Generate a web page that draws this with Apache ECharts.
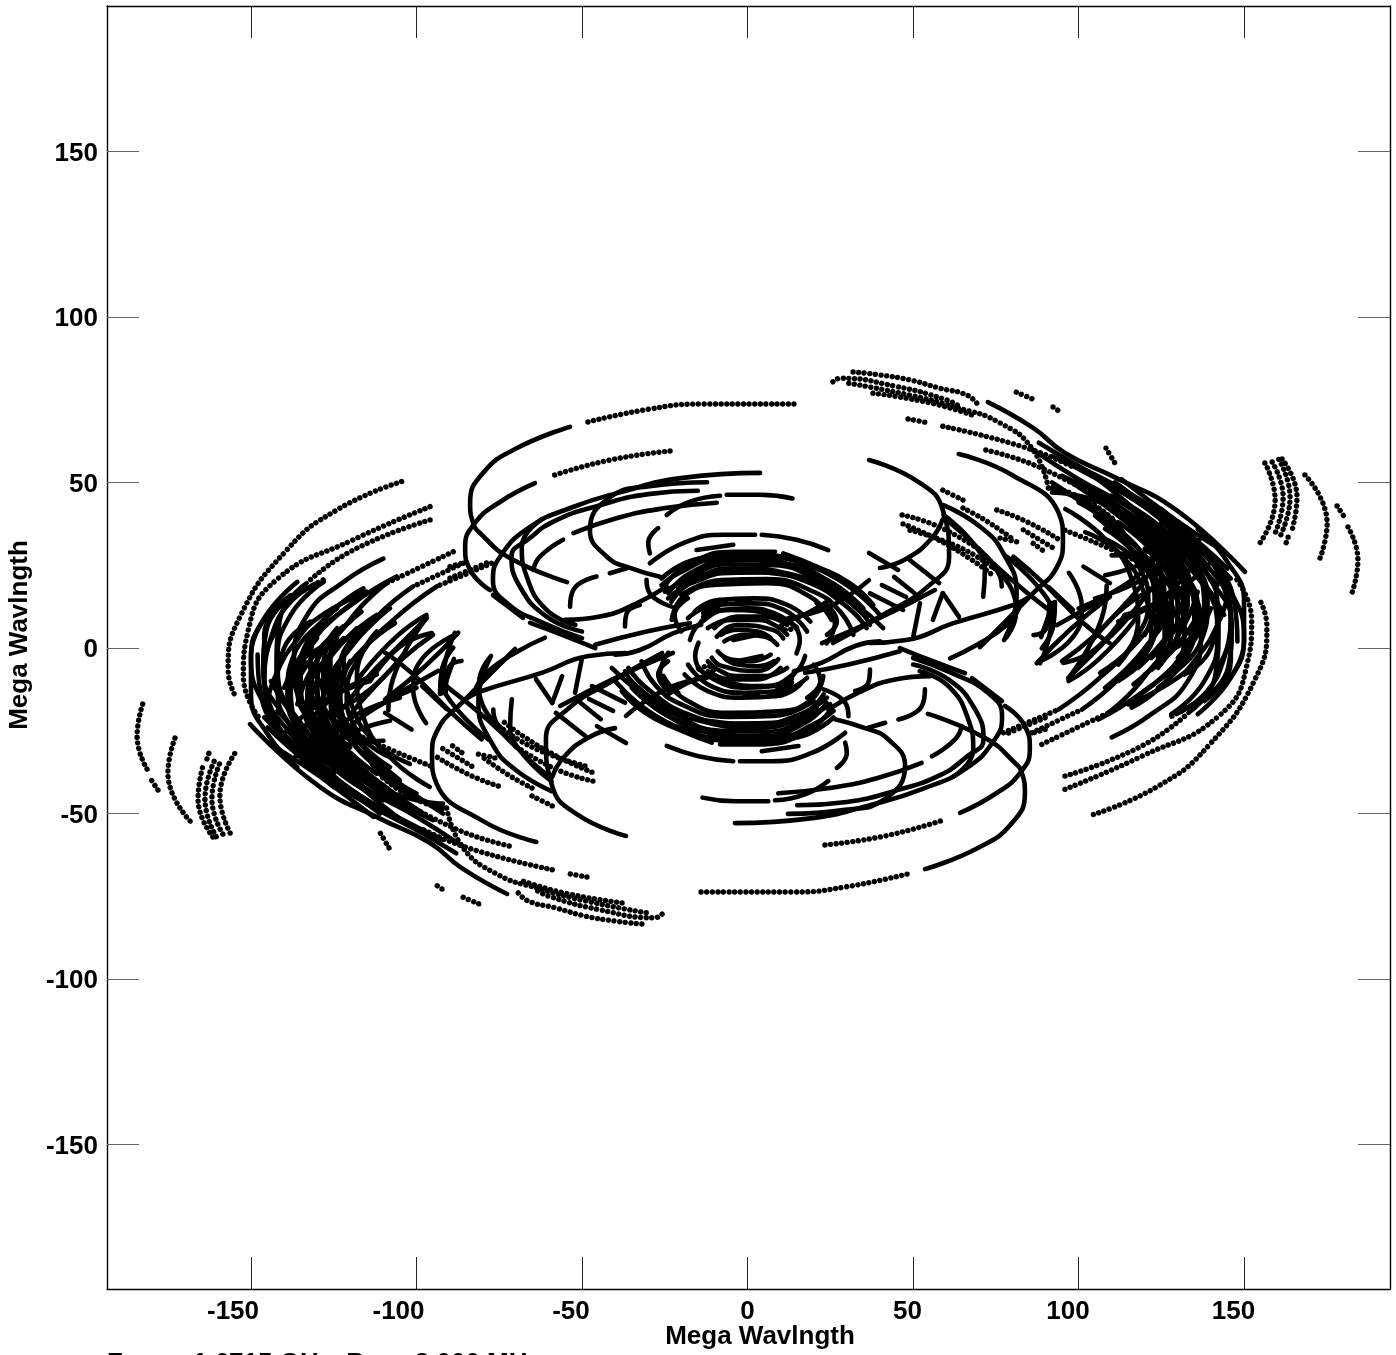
<!DOCTYPE html>
<html><head><meta charset="utf-8">
<style>html,body{margin:0;padding:0;background:#fff;overflow:hidden}#c{width:1396px;height:1355px}</style>
<script src="https://cdn.jsdelivr.net/npm/echarts@6/dist/echarts.min.js"></script>
</head><body><div id="c"></div>
<script>
const tickValues=[-150,-100,-50,0,50,100,150];
const solidUpper=[
[-53.6,66.8,-69.6,60.4,-79.9,52.9,-83.8,43.8,-82.9,37.8,-80.8,34.7,-71.8,27.2,-54.5,19.9],
[-64.2,49.8,-74.8,44.1,-82.3,37.8,-85.3,30.5,-83.8,23.6,-77.8,17.5],
[-76.9,16,-67.8,9.1],
[-65.7,7.6,-56,4,-46,0],
[3.8,52.9,-19.5,51.4,-39.4,46.8,-52.7,42.6,-65.7,36.6,-74.8,27.5,-76.9,20.5,-72.7,13.6,-61.8,7.6,-50,3],
[-12.2,50.1,-29.5,48.9,-41.5,45.6,-47.6,35.6,-42.4,27.5,-35.5,24.2,-26.4,21.5],
[-15,47.5,-30,46.5,-45,43,-58,38.5,-66,33,-71.3,27.6,-68.8,18.6,-60.7,9.5,-50,5],
[-62,39,-68.2,30.6,-66.7,21.6,-60.7,11.5,-52,7],
[-52.6,34.7,-39.6,39.2,-25.4,42.2,-9.3,43.9],
[-24.4,40.2,-17.4,44.2,-8.3,46],
[-6.3,46.3,3.8,46.3,13.6,45.2],
[-64.7,23.6,-62.7,27.6,-55.7,32.7],
[-53.6,12.5,-52.6,17.6,-45.6,21.6],
[-55.2,8.5,-44.6,9.5,-33.5,13.5,-24.4,18.6],
[-41.6,22.6,-36.5,24.1],
[-30.5,20.6,-29.5,16.5,-22.9,12.5],
[-29.5,28.6,-30,31.7,-27,36.2],
[-37,6.5,-36.5,10.5,-32.5,13],
[-29.5,25.6,-19.4,31.7,-7.3,34.2,2.3,34.2],
[4.3,34.2,14.8,32.7,24.4,29.6],
[-15.4,29.6,-4.3,31.2],
[-24.4,19.6,-17.4,25.6,-4.3,29.1,8.3,29.1],
[10.8,28.6,20.9,24.6,30.9,19.6,38,13],
[-23.9,16.5,-17.4,22.6,-4.3,26.6,10.8,25.6,25,20,35,12],
[-23,14,-17.4,19.6,-4.3,24.1,15.8,21.6,30.9,14.5,37,7],
[-22.9,8.5,-19.4,15.5,-9.3,19.1,5.8,19.6,18.9,15.5,25.4,8.5],
[-13.4,10.5,-8.4,14.5],
[-3.3,14.5,0.7,14.5],
[-14,8,-8,11.5,0,12,8,10.5,15,6],
[-12,6,-5,8.5,3,8.5,9,6.5,12,4],
[-8,4,-3,5.5,3,5,7,3],
[36.7,1.5,48,2.4,62.2,7.5,80.3,13,85.3,15.5],
[-46,1,-30.5,5,-17.4,7.5],
[-40,-2,-32.5,-0.6,-22.5,4.4,-14,7],
[20.9,13.5,26.4,7.4,23.9,1.4],
[12.8,8.4,18,10.5,24,14],
[-17.4,2.4,-14.4,7.4,-5.3,11.5,7.8,9.9,15.8,2.4,14.8,-1.6],
[-13.4,9.4,-6.3,14.5],
[-9.3,3.4,-3.3,6.9,7.8,5.4,10.8,2.9],
[-4.3,2.4,2.7,3.9],
[-26,19,-20,23,-8,27.5,5,28,18,25,30,19,40,10],
[-25,17,-18,21,-6,25.3,8,25,22,20,33,13,41,6],
[-24,15,-16,20,-3,23,12,22,26,17,36,9],
[-22,22,-12,26.5,2,27,16,24,28,18],
[-26,21,-15,27,-2,28.2,14,26.5,27,21,36,15],
[-21,18,-10,22.5,4,22.8,18,20,30,12.5,36,6],
[-20,16,-8,20.5,6,20.8,20,17,28,11,32,4],
[-16,11,-9,14.5,2,15,12,13,19,8],
[-18,9,-10,13,1,13.5,11,11.5,18,5],
[-10,6,-3,9.5,5,9.5,12,7],
[-7,2,-1,4,5,3.5,9,1],
[-20,5,-22,10,-18,15],
[24,4,27,8,24,13],
[36.7,56.8,51.6,50.2,59,41.7,60.9,27.5,55,19,40,9.5,25.8,1.5],
[63.8,58.6,79.9,52.3,94,40.8,95.3,32.6,93.5,24.5,86.3,16.6,70.2,0.3],
[40,24.2,48,27,55.5,33,59,39],
[36.7,28.7,45.5,23.6],
[49,26.6,57.9,19.6],
[40.6,19,47.9,15.4],
[44.3,21.5,50.4,16.6],
[59,16.6,56,8.5],
[59,16.6,63.9,9.4],
[22.5,1.5,40.6,9.4,56.6,17.5],
[73.9,24.5,79.9,17.5,81.1,10.6,77.5,2.4],
[70.2,29.6,78.7,21.5,91,11.5],
[59.2,43.2,70.2,36.7,77.3,28.6,81.3,16.5,80.3,9.5,77.8,3],
[59.2,40.2,68.2,31.6,71.7,23.6,71.2,15.5],
[60.2,38.7,70.2,29.6,75.8,22.6,76.8,18.6],
[80.3,27.6,89.4,19.6,101.5,7.5,109.5,1.4],
[78.3,27.6,89.4,16.5,91.9,9.5,88.4,-4.6],
[87.4,-4.6,97.4,5.5,109.5,15.5],
[101.5,24.6,109.5,19.6],
[37,16.5,47,11.5],
[52.1,13.5,50.1,3.5],
[97.1,22.7,101,12.4,98.3,3.3,87.9,-4.2],
[91,18.4,98.3,11.5],
[92.3,13.6,91.7,6.3],
[88.7,3.3,92.3,13.6],
[91.2,13.9,90.2,5.9,86.4,3.9],
[92.9,13.9,92.4,6.9,88.9,-0.1],
[93.4,6.9,107.5,14.8],
[61.2,-3.1,69.2,0.9,78.2,6.9,82,12],
[108.5,18.9,107,9,96.9,-9.1],
[12.2,9,24.6,12.4,36.7,20.5],
[72.6,74.3,86.3,66.5,95.9,58.9,110.7,51.7,129.5,41.7,150.3,23],
[88,62,100,55,115,47,130,37,145,24],
[92,58,104,52,118,44,132,34,146,21],
[86,60,100,51,116,42,130,31,142,19],
[95,52,110,44,124,34,136,22,144,10],
[98,50,112,40,124,29,134,17,138,6],
[92,50,105,41,118,30,128,18,132,8],
[100,44,112,36,122,25,130,12,130,2],
[105,40,115,31,124,20,127,8,124,-3],
[108,33,118,26,126,13,126,2,120,-8],
[102,35,113,28,120,16,122,4,116,-7],
[96,42,108,33,116,21,118,8,112,-5],
[118,44,135,31,146,17,150,3,146,-9,136,-20],
[125,38,138,26,146,10,146,-4,138,-16],
[128,33,138,20,142,4,138,-10,128,-20],
[120,34,133,20,137,4,133,-10,122,-20,110,-27],
[112,38,128,22,132,6,128,-8,116,-18],
[115,46,128,36,138,24,142,12,140,0,132,-8],
[110,46,123,38,134,27,139,14,137,2,128,-8],
[105,46,118,38,128,29,134,19,135,8,130,-3],
[110,42,122,34,131,24,136,12,133,-2,124,-12],
[115,38,126,28,132,16,130,4,124,-6],
[120,30,128,18,128,8,122,-3],
[115,28,124,16,123,4,116,-6],
[125,42,137,30,144,18,146,6,142,-6],
[130,38,140,27,147,14,148,2],
[136,36,145,26,150,14,150,2,145,-10],
[108,22,120,26,130,34],
[105,15,118,20,130,28,138,34],
[112,8,124,14,134,24],
[95,-4,104,3,112,11,120,20],
[96.9,-9.1,106,0,114,8,122,18],
[106.5,-7.5,116,0,124,10],
[116.6,-11,125,-3,132,7,136,17],
[114.6,-16.7,125,-9,134,1,140,12],
[122,-6.6,130,1,136,10],
[130,-19.7,138.7,-13.2,144,-3,146,8],
[-133.2,19.6,-141.3,8.5,-142.3,-6.6,-134.2,-23.7,-119.1,-39.9,-103,-53],
[-139.2,14.5,-145.3,5.5,-146.3,-6.6,-139.2,-21.7,-129.2,-34.8,-111,-50],
[-106,21.6,-119.1,13.5,-130.2,3.5,-135.2,-8.6,-131.2,-24.7,-121.1,-36.8],
[-109,19.6,-120.1,8.5,-128.2,-6.6,-127.2,-24.7,-117.1,-36.8,-99,-50],
[-101,18.6,-112,9.5,-122.1,-2.6,-125.1,-16.7,-121.1,-31.8,-109,-42.9,-92,-47],
[-93.9,18.6,-107,8.5,-117.1,-2.6,-121.1,-14.7,-117.1,-26.8,-109,-39.9,-90.9,-48.4],
[-115.1,17,-129.2,9.5,-136.2,2.4,-142,-7,-145.3,-16.7],
[-97,10,-106,3.5,-117.1,-8.6],
[-95.4,4.5,-105,0.4,-114,-10],
[-112,10,-124,0,-130,-10,-128,-25,-118,-38,-104,-48],
[-118,6,-127,-4,-133,-14,-130,-28,-120,-40],
[-108,12,-120,0,-126,-12,-124,-26,-112,-40],
[-125,2,-138,-10,-137,-22,-128,-33],
[-120,-4,-123,-14,-119,-26,-108,-36],
[-135,-3,-128,-15,-132,-30,-122,-42],
[-114,-10,-128,-16,-140,-26],
[-104,-2,-116,-14,-132,-22],
[-100,-12,-118,-22,-130,-36],
[-110,-28,-125,-32,-116,-42],
[-141.3,-30.8,-129.2,-38.8,-113,-51]
];
const solidLower=[
[53.6,-66.8,69.6,-60.4,79.9,-52.9,83.8,-43.8,82.9,-37.8,80.8,-34.7,71.8,-27.2,54.5,-19.9],
[64.2,-49.8,74.8,-44.1,82.3,-37.8,85.3,-30.5,83.8,-23.6,77.8,-17.5],
[76.9,-16,67.8,-9.1],
[65.7,-7.6,56,-4,46,0],
[-3.8,-52.9,19.5,-51.4,39.4,-46.8,52.7,-42.6,65.7,-36.6,74.8,-27.5,76.9,-20.5,72.7,-13.6,61.8,-7.6,50,-3],
[12.2,-50.1,29.5,-48.9,41.5,-45.6,47.6,-35.6,42.4,-27.5,35.5,-24.2,26.4,-21.5],
[15,-47.5,30,-46.5,45,-43,58,-38.5,66,-33,71.3,-27.6,68.8,-18.6,60.7,-9.5,50,-5],
[62,-39,68.2,-30.6,66.7,-21.6,60.7,-11.5,52,-7],
[52.6,-34.7,39.6,-39.2,25.4,-42.2,9.3,-43.9],
[24.4,-40.2,17.4,-44.2,8.3,-46],
[6.3,-46.3,-3.8,-46.3,-13.6,-45.2],
[64.7,-23.6,62.7,-27.6,55.7,-32.7],
[53.6,-12.5,52.6,-17.6,45.6,-21.6],
[55.2,-8.5,44.6,-9.5,33.5,-13.5,24.4,-18.6],
[41.6,-22.6,36.5,-24.1],
[30.5,-20.6,29.5,-16.5,22.9,-12.5],
[29.5,-28.6,30,-31.7,27,-36.2],
[37,-6.5,36.5,-10.5,32.5,-13],
[29.5,-25.6,19.4,-31.7,7.3,-34.2,-2.3,-34.2],
[-4.3,-34.2,-14.8,-32.7,-24.4,-29.6],
[15.4,-29.6,4.3,-31.2],
[24.4,-19.6,17.4,-25.6,4.3,-29.1,-8.3,-29.1],
[-10.8,-28.6,-20.9,-24.6,-30.9,-19.6,-38,-13],
[23.9,-16.5,17.4,-22.6,4.3,-26.6,-10.8,-25.6,-25,-20,-35,-12],
[23,-14,17.4,-19.6,4.3,-24.1,-15.8,-21.6,-30.9,-14.5,-37,-7],
[22.9,-8.5,19.4,-15.5,9.3,-19.1,-5.8,-19.6,-18.9,-15.5,-25.4,-8.5],
[13.4,-10.5,8.4,-14.5],
[3.3,-14.5,-0.7,-14.5],
[14,-8,8,-11.5,0,-12,-8,-10.5,-15,-6],
[12,-6,5,-8.5,-3,-8.5,-9,-6.5,-12,-4],
[8,-4,3,-5.5,-3,-5,-7,-3],
[-36.7,-1.5,-48,-2.4,-62.2,-7.5,-80.3,-13,-85.3,-15.5],
[46,-1,30.5,-5,17.4,-7.5],
[40,2,32.5,0.6,22.5,-4.4,14,-7],
[-20.9,-13.5,-26.4,-7.4,-23.9,-1.4],
[-12.8,-8.4,-18,-10.5,-24,-14],
[17.4,-2.4,14.4,-7.4,5.3,-11.5,-7.8,-9.9,-15.8,-2.4,-14.8,1.6],
[13.4,-9.4,6.3,-14.5],
[9.3,-3.4,3.3,-6.9,-7.8,-5.4,-10.8,-2.9],
[4.3,-2.4,-2.7,-3.9],
[26,-19,20,-23,8,-27.5,-5,-28,-18,-25,-30,-19,-40,-10],
[25,-17,18,-21,6,-25.3,-8,-25,-22,-20,-33,-13,-41,-6],
[24,-15,16,-20,3,-23,-12,-22,-26,-17,-36,-9],
[22,-22,12,-26.5,-2,-27,-16,-24,-28,-18],
[26,-21,15,-27,2,-28.2,-14,-26.5,-27,-21,-36,-15],
[21,-18,10,-22.5,-4,-22.8,-18,-20,-30,-12.5,-36,-6],
[20,-16,8,-20.5,-6,-20.8,-20,-17,-28,-11,-32,-4],
[16,-11,9,-14.5,-2,-15,-12,-13,-19,-8],
[18,-9,10,-13,-1,-13.5,-11,-11.5,-18,-5],
[10,-6,3,-9.5,-5,-9.5,-12,-7],
[7,-2,1,-4,-5,-3.5,-9,-1],
[20,-5,22,-10,18,-15],
[-24,-4,-27,-8,-24,-13],
[-36.7,-56.8,-51.6,-50.2,-59,-41.7,-60.9,-27.5,-55,-19,-40,-9.5,-25.8,-1.5],
[-63.8,-58.6,-79.9,-52.3,-94,-40.8,-95.3,-32.6,-93.5,-24.5,-86.3,-16.6,-70.2,-0.3],
[-40,-24.2,-48,-27,-55.5,-33,-59,-39],
[-36.7,-28.7,-45.5,-23.6],
[-49,-26.6,-57.9,-19.6],
[-40.6,-19,-47.9,-15.4],
[-44.3,-21.5,-50.4,-16.6],
[-59,-16.6,-56,-8.5],
[-59,-16.6,-63.9,-9.4],
[-22.5,-1.5,-40.6,-9.4,-56.6,-17.5],
[-73.9,-24.5,-79.9,-17.5,-81.1,-10.6,-77.5,-2.4],
[-70.2,-29.6,-78.7,-21.5,-91,-11.5],
[-59.2,-43.2,-70.2,-36.7,-77.3,-28.6,-81.3,-16.5,-80.3,-9.5,-77.8,-3],
[-59.2,-40.2,-68.2,-31.6,-71.7,-23.6,-71.2,-15.5],
[-60.2,-38.7,-70.2,-29.6,-75.8,-22.6,-76.8,-18.6],
[-80.3,-27.6,-89.4,-19.6,-101.5,-7.5,-109.5,-1.4],
[-78.3,-27.6,-89.4,-16.5,-91.9,-9.5,-88.4,4.6],
[-87.4,4.6,-97.4,-5.5,-109.5,-15.5],
[-101.5,-24.6,-109.5,-19.6],
[-37,-16.5,-47,-11.5],
[-52.1,-13.5,-50.1,-3.5],
[-97.1,-22.7,-101,-12.4,-98.3,-3.3,-87.9,4.2],
[-91,-18.4,-98.3,-11.5],
[-92.3,-13.6,-91.7,-6.3],
[-88.7,-3.3,-92.3,-13.6],
[-91.2,-13.9,-90.2,-5.9,-86.4,-3.9],
[-92.9,-13.9,-92.4,-6.9,-88.9,0.1],
[-93.4,-6.9,-107.5,-14.8],
[-61.2,3.1,-69.2,-0.9,-78.2,-6.9,-82,-12],
[-108.5,-18.9,-107,-9,-96.9,9.1],
[-12.2,-9,-24.6,-12.4,-36.7,-20.5],
[-72.6,-74.3,-86.3,-66.5,-95.9,-58.9,-110.7,-51.7,-129.5,-41.7,-150.3,-23],
[-88,-62,-100,-55,-115,-47,-130,-37,-145,-24],
[-92,-58,-104,-52,-118,-44,-132,-34,-146,-21],
[-86,-60,-100,-51,-116,-42,-130,-31,-142,-19],
[-95,-52,-110,-44,-124,-34,-136,-22,-144,-10],
[-98,-50,-112,-40,-124,-29,-134,-17,-138,-6],
[-92,-50,-105,-41,-118,-30,-128,-18,-132,-8],
[-100,-44,-112,-36,-122,-25,-130,-12,-130,-2],
[-105,-40,-115,-31,-124,-20,-127,-8,-124,3],
[-108,-33,-118,-26,-126,-13,-126,-2,-120,8],
[-102,-35,-113,-28,-120,-16,-122,-4,-116,7],
[-96,-42,-108,-33,-116,-21,-118,-8,-112,5],
[-118,-44,-135,-31,-146,-17,-150,-3,-146,9,-136,20],
[-125,-38,-138,-26,-146,-10,-146,4,-138,16],
[-128,-33,-138,-20,-142,-4,-138,10,-128,20],
[-120,-34,-133,-20,-137,-4,-133,10,-122,20,-110,27],
[-112,-38,-128,-22,-132,-6,-128,8,-116,18],
[-115,-46,-128,-36,-138,-24,-142,-12,-140,0,-132,8],
[-110,-46,-123,-38,-134,-27,-139,-14,-137,-2,-128,8],
[-105,-46,-118,-38,-128,-29,-134,-19,-135,-8,-130,3],
[-110,-42,-122,-34,-131,-24,-136,-12,-133,2,-124,12],
[-115,-38,-126,-28,-132,-16,-130,-4,-124,6],
[-120,-30,-128,-18,-128,-8,-122,3],
[-115,-28,-124,-16,-123,-4,-116,6],
[-125,-42,-137,-30,-144,-18,-146,-6,-142,6],
[-130,-38,-140,-27,-147,-14,-148,-2],
[-136,-36,-145,-26,-150,-14,-150,-2,-145,10],
[-108,-22,-120,-26,-130,-34],
[-105,-15,-118,-20,-130,-28,-138,-34],
[-112,-8,-124,-14,-134,-24],
[-95,4,-104,-3,-112,-11,-120,-20],
[-96.9,9.1,-106,0,-114,-8,-122,-18],
[-106.5,7.5,-116,0,-124,-10],
[-116.6,11,-125,3,-132,-7,-136,-17],
[-114.6,16.7,-125,9,-134,-1,-140,-12],
[-122,6.6,-130,-1,-136,-10],
[-130,19.7,-138.7,13.2,-144,3,-146,-8],
[133.2,-19.6,141.3,-8.5,142.3,6.6,134.2,23.7,119.1,39.9,103,53],
[139.2,-14.5,145.3,-5.5,146.3,6.6,139.2,21.7,129.2,34.8,111,50],
[106,-21.6,119.1,-13.5,130.2,-3.5,135.2,8.6,131.2,24.7,121.1,36.8],
[109,-19.6,120.1,-8.5,128.2,6.6,127.2,24.7,117.1,36.8,99,50],
[101,-18.6,112,-9.5,122.1,2.6,125.1,16.7,121.1,31.8,109,42.9,92,47],
[93.9,-18.6,107,-8.5,117.1,2.6,121.1,14.7,117.1,26.8,109,39.9,90.9,48.4],
[115.1,-17,129.2,-9.5,136.2,-2.4,142,7,145.3,16.7],
[97,-10,106,-3.5,117.1,8.6],
[95.4,-4.5,105,-0.4,114,10],
[112,-10,124,0,130,10,128,25,118,38,104,48],
[118,-6,127,4,133,14,130,28,120,40],
[108,-12,120,0,126,12,124,26,112,40],
[125,-2,138,10,137,22,128,33],
[120,4,123,14,119,26,108,36],
[135,3,128,15,132,30,122,42],
[114,10,128,16,140,26],
[104,2,116,14,132,22],
[100,12,118,22,130,36],
[110,28,125,32,116,42],
[141.3,30.8,129.2,38.8,113,51]
];
const dottedUpper=[
[-48.2,68.3,-29.5,72.2,-14.4,73.7,14.3,73.7],
[-23.4,59.5,-41.5,56.8,-59.1,52],
[156.3,55.9,159.4,44.7,154.8,31.7],
[158.5,56.2,161.8,45.6,159.4,34.7],
[160.5,57,163.9,45.6,160.8,33.5],
[161.5,57.1,166,45.6,164.5,35.6],
[163.3,33.5,162.7,31.7],
[168.4,52.3,175.1,37.8,172.4,25.7],
[178.1,42.9,180.5,39.3],
[181.4,36.6,184.4,26.6,182.6,16.6],
[31.9,83.4,40,82.5,49,81,58,78.5,66.3,76.4,69.7,73.4],
[25.8,80.4,28,81.5,45,79,60,75,64,73],
[30.6,80,49,76.4,62.7,72.8,76.3,68,86.3,59.8,91,47.7],
[37.9,77,55.4,74,69,70],
[81.2,77.3,86.9,74.9],
[92.3,72.8,95,71],
[108.3,60.4,111.3,55.3],
[48.5,69.2,54.8,68],
[59,67,83.5,60.7,98.3,54.7],
[72,59.8,88.7,54.4,110.7,42.6],
[46.7,40.2,57.9,36.6,70.2,29.6],
[47,37.5,57,33,68,26.5,74,22],
[49.1,35.6,63.9,30.5,73.9,24.5],
[59,47.7,65.1,44.7],
[75.3,41.7,84.3,38.2,94.4,32.6],
[83.3,35.7,93.4,29.6],
[86.3,31.6,90.4,28.6],
[65.1,42.3,72,38.5,80,33],
[76.3,33.2,81.7,32],
[95.9,35.6,108.3,30.5,117,26.6],
[92.3,48.6,102.3,44.7,110.7,38.7],
[-89.9,21.1,-77.8,26.1],
[-89.9,24.6,-86.4,25.6],
[-104.5,50.3,-124.1,41.7,-139.2,29.6,-153.3,9.5,-156.9,-6.6,-154.4,-15.2],
[-95.9,42.7,-119.1,32.7,-142.3,20.6,-150.8,5.5,-152.3,-8.6,-147.8,-20.7],
[-95.9,38.7,-119.1,29.6,-133.2,19.6],
[-88.9,29.1,-109,19.6],
[-85.9,25.6,-101,18.6],
[-77.3,25.6,-93.9,18.6],
[-128.2,20.6,-139.2,14.5],
[9.8,8.4,11.8,5.4,14.8,6.4]
];
const dottedLower=[
[48.2,-68.3,29.5,-72.2,14.4,-73.7,-14.3,-73.7],
[23.4,-59.5,41.5,-56.8,59.1,-52],
[-156.3,-55.9,-159.4,-44.7,-154.8,-31.7],
[-158.5,-56.2,-161.8,-45.6,-159.4,-34.7],
[-160.5,-57,-163.9,-45.6,-160.8,-33.5],
[-161.5,-57.1,-166,-45.6,-164.5,-35.6],
[-163.3,-33.5,-162.7,-31.7],
[-168.4,-52.3,-175.1,-37.8,-172.4,-25.7],
[-178.1,-42.9,-180.5,-39.3],
[-181.4,-36.6,-184.4,-26.6,-182.6,-16.6],
[-31.9,-83.4,-40,-82.5,-49,-81,-58,-78.5,-66.3,-76.4,-69.7,-73.4],
[-25.8,-80.4,-28,-81.5,-45,-79,-60,-75,-64,-73],
[-30.6,-80,-49,-76.4,-62.7,-72.8,-76.3,-68,-86.3,-59.8,-91,-47.7],
[-37.9,-77,-55.4,-74,-69,-70],
[-81.2,-77.3,-86.9,-74.9],
[-92.3,-72.8,-95,-71],
[-108.3,-60.4,-111.3,-55.3],
[-48.5,-69.2,-54.8,-68],
[-59,-67,-83.5,-60.7,-98.3,-54.7],
[-72,-59.8,-88.7,-54.4,-110.7,-42.6],
[-46.7,-40.2,-57.9,-36.6,-70.2,-29.6],
[-47,-37.5,-57,-33,-68,-26.5,-74,-22],
[-49.1,-35.6,-63.9,-30.5,-73.9,-24.5],
[-59,-47.7,-65.1,-44.7],
[-75.3,-41.7,-84.3,-38.2,-94.4,-32.6],
[-83.3,-35.7,-93.4,-29.6],
[-86.3,-31.6,-90.4,-28.6],
[-65.1,-42.3,-72,-38.5,-80,-33],
[-76.3,-33.2,-81.7,-32],
[-95.9,-35.6,-108.3,-30.5,-117,-26.6],
[-92.3,-48.6,-102.3,-44.7,-110.7,-38.7],
[89.9,-21.1,77.8,-26.1],
[89.9,-24.6,86.4,-25.6],
[104.5,-50.3,124.1,-41.7,139.2,-29.6,153.3,-9.5,156.9,6.6,154.4,15.2],
[95.9,-42.7,119.1,-32.7,142.3,-20.6,150.8,-5.5,152.3,8.6,147.8,20.7],
[95.9,-38.7,119.1,-29.6,133.2,-19.6],
[88.9,-29.1,109,-19.6],
[85.9,-25.6,101,-18.6],
[77.3,-25.6,93.9,-18.6],
[128.2,-20.6,139.2,-14.5],
[-9.8,-8.4,-11.8,-5.4,-14.8,-6.4]
];
const pairs=a=>{const o=[];for(let i=0;i<a.length;i+=2)o.push([a[i],a[i+1]]);return o;};
const arcSeries=(arc,dotted)=>({type:'line',xAxisIndex:0,yAxisIndex:0,data:pairs(arc),smooth:0.5,smoothConstraint:false,symbol:'none',silent:true,animation:false,
  lineStyle:dotted?{color:'#000',width:5.4,type:[0.01,5.6],cap:'round'}:{color:'#000',width:4.6,cap:'round'}});
const FONT='"Liberation Sans",Arial,sans-serif';
const xTick={show:true,inside:true,length:32,customValues:tickValues,lineStyle:{color:'#222',width:1}};
const yTick={show:true,inside:true,length:32,customValues:tickValues,lineStyle:{color:'#666',width:1}};
const axisLine={show:true,onZero:false,lineStyle:{color:'#000',width:1.4}};
const textStyle={fontFamily:FONT,fontWeight:'bold',fontSize:26,color:'#000'};
const xShift={'-150':36,'-100':36,'-50':22,'0':0,'50':11,'100':21,'150':21};
const xRich={};
Object.values(xShift).forEach(p=>{xRich['p'+p]={...textStyle,padding:[0,p,0,0]};});
const xRange={min:-193.5,max:194.1},yRange={min:-193.65,max:193.96};
const chart=echarts.init(document.getElementById('c'),null,{renderer:'canvas'});
chart.setOption({
  backgroundColor:'#fff',animation:false,
  grid:{left:107,top:6,width:1283,height:1283,containLabel:false},
  xAxis:[
   {type:'value',position:'bottom',...xRange,splitLine:{show:false},axisLine,axisTick:xTick,
    axisLabel:{show:true,customValues:tickValues,margin:10,...textStyle,rich:xRich,
      formatter:v=>'{p'+xShift[String(v)]+'|'+v+'}'}},
   {type:'value',position:'top',...xRange,splitLine:{show:false},axisLine,axisTick:xTick,axisLabel:{show:false}}
  ],
  yAxis:[
   {type:'value',position:'left',...yRange,splitLine:{show:false},axisLine,axisTick:yTick,
    axisLabel:{show:true,customValues:tickValues,margin:9,...textStyle,rich:{t:{...textStyle,padding:[4,0,0,0]}},formatter:v=>'{t|'+v+'}'}},
   {type:'value',position:'right',...yRange,splitLine:{show:false},axisLine,axisTick:yTick,axisLabel:{show:false}}
  ],
  graphic:[
   {type:'text',x:760,y:1337,style:{text:'Mega Wavlngth',font:'bold 26px '+FONT,fill:'#000',textAlign:'center',textVerticalAlign:'middle'}},
   {type:'text',x:20,y:635,rotation:Math.PI/2,style:{text:'Mega Wavlngth',font:'bold 26px '+FONT,fill:'#000',textAlign:'center',textVerticalAlign:'middle'}},
   {type:'text',x:107,y:1351,style:{text:'Freq = 1.6715 GHz, Bw = 8.000 MHz',font:'bold 26px '+FONT,fill:'#000',textAlign:'left',textVerticalAlign:'top'}}
  ],
  series:[...solidUpper.map(a=>arcSeries(a,false)),...solidLower.map(a=>arcSeries(a,false)),
          ...dottedUpper.map(a=>arcSeries(a,true)),...dottedLower.map(a=>arcSeries(a,true))]
});
</script></body></html>
